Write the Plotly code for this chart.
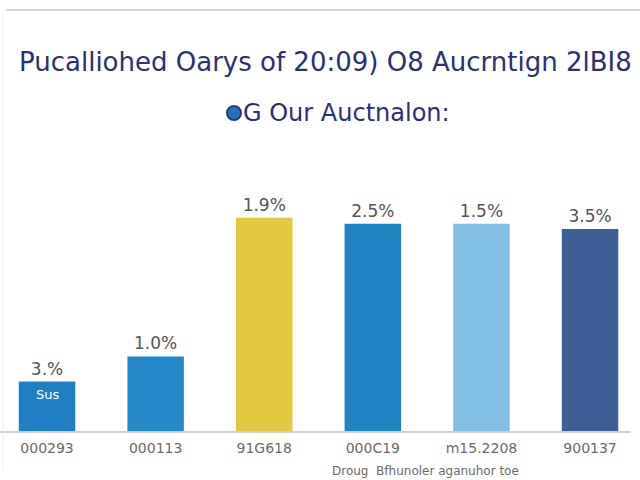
import plotly.graph_objects as go

categories = ["000293", "000113", "91G618", "000C19", "m15.2208", "900137"]
values = [1.0, 1.5, 4.25, 4.13, 4.13, 4.03]
bar_labels = ["3.%", "1.0%", "1.9%", "2.5%", "1.5%", "3.5%"]
colors = ["#1f7fc4", "#2389c9", "#e2c83f", "#1f82c2", "#80c0e6", "#3d5f98"]

title_text = "Pucalliohed Oarys of 20:09) O8 Aucrntign 2lBI8"
subtitle_text = "G Our Auctnalon:"
xaxis_title = "Droug  Bfhunoler aganuhor toe"

x = list(range(len(categories)))

fig = go.Figure()
fig.add_trace(go.Bar(
    x=x, y=values, width=0.52,
    marker=dict(color=colors, line=dict(width=0)),
    text=bar_labels, textposition="outside",
    textfont=dict(family="DejaVu Sans", size=17, color="#555555"),
    cliponaxis=False,
))

H0, TOP = 432, 180
def py(p):
    return (H0 - p) / (H0 - TOP)

def ann(text, px, ppy, size, color):
    return dict(text=text, x=px / 640, y=py(ppy), xref="paper", yref="paper",
                xanchor="center", yanchor="middle", showarrow=False,
                font=dict(family="DejaVu Sans", size=size, color=color))

fig.update_layout(
    width=640, height=480,
    margin=dict(l=0, r=0, t=TOP, b=480 - H0, autoexpand=False),
    paper_bgcolor="white", plot_bgcolor="white",
    showlegend=False,
    xaxis=dict(range=[-0.433, 5.46], tickmode="array", tickvals=x, ticktext=categories,
               showgrid=False, zeroline=False, showline=False, automargin=False,
               tickfont=dict(family="DejaVu Sans", size=14, color="#6a6a6a"),
               ticks="", ticklabelstandoff=6),
    yaxis=dict(range=[0, 5], visible=False, automargin=False),
    shapes=[
        dict(type="line", xref="paper", yref="paper", x0=0, x1=0.985, y0=0, y1=0,
             line=dict(color="#cfcfcf", width=2)),
        dict(type="line", xref="paper", yref="paper", x0=0.01, x1=1, y0=py(10), y1=py(10),
             line=dict(color="#d4d4d4", width=2)),
        dict(type="line", xref="paper", yref="paper", x0=0.005, x1=0.005, y0=py(470), y1=py(14),
             line=dict(color="#ececec", width=1)),
        dict(type="circle", xref="paper", yref="paper", fillcolor="#2a70b8",
             line=dict(color="#1e3f80", width=2),
             x0=(234 - 7) / 640, x1=(234 + 7) / 640, y0=py(113 + 7), y1=py(113 - 7)),
    ],
    annotations=[
        ann(title_text, (18 + 633) / 2, 62, 26, "#2b2f78"),
        ann(subtitle_text, (244 + 448) / 2, 113, 24, "#2b2f78"),
        dict(text="Sus", x=0, y=0.75, xref="x", yref="y", showarrow=False,
             font=dict(family="DejaVu Sans", size=13, color="white")),
        ann(xaxis_title, 425, 471, 12, "#6a6a6a"),
    ],
)

fig.write_html("out.html", config={"displayModeBar": False},
               post_script="document.body.style.margin='0';")
